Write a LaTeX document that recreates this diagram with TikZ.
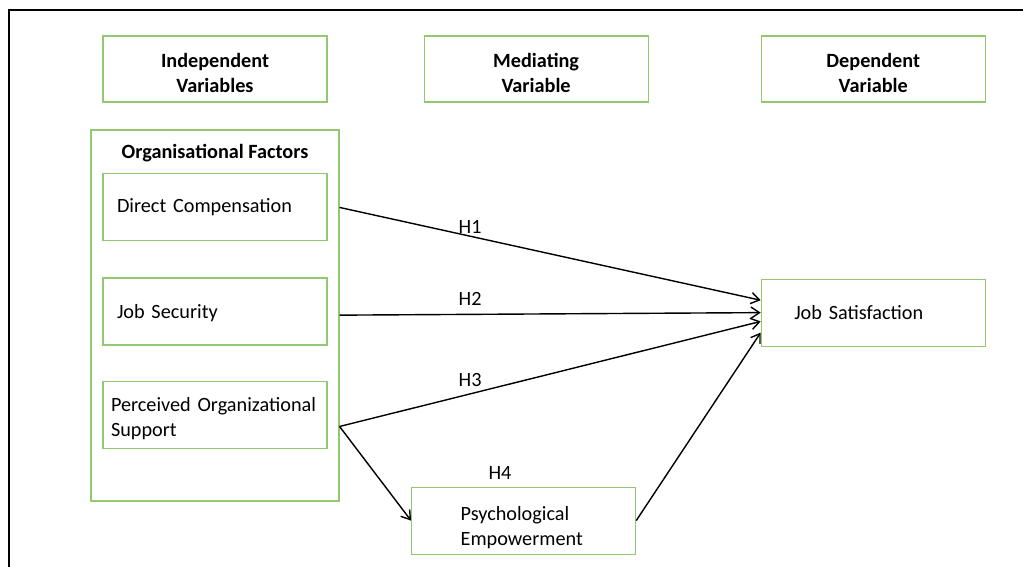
\documentclass[tikz,border=0pt]{standalone}
\usepackage{fontspec}
\setmainfont{Carlito}
\usepackage{tikz}
\usetikzlibrary{arrows.meta, positioning, shapes}
\definecolor{boxgreen}{RGB}{146,200,112}
\tikzstyle{head} = [rectangle, draw=boxgreen, line width=0.8pt, align=center, font=\fontsize{14.4}{17.5}\selectfont\bfseries, minimum height = 1.65cm, minimum width=5.6cm, text height=1.16cm]
\tikzstyle{item} = [rectangle, draw=boxgreen, line width=0.8pt, align=left, minimum height = 1.675cm, minimum width=5.6cm, inner xsep=0.35cm, text width=4.9cm]
\tikzstyle{arrow} = [line width=1pt, -{Straight Barb[length=6pt,width=8pt]}]
\tikzstyle{scat} = [every node/.style={font=\fontsize{14.4}{17.5}\selectfont}]

\begin{document}
\begin{tikzpicture}[scat]

\useasboundingbox (0,0) rectangle (25.575,-14.175);
\draw[line width=1.4pt] (0.225,-14.5) -- (0.225,-0.25) -- (25.9,-0.25);

\node(IV)[head] at (5.375,-1.725) {Independent\\Variables};
\node(MV)[head, right = 2.4cm of IV] {Mediating\\Variable};
\node(DV)[head, right = 2.8cm of MV] {Dependent\\Variable};

\node(DC)[item, below = 1.77cm of IV] {Direct Compensation};
\node(JSec)[item, below = 0.9cm of DC, text height=0.45cm] {Job Security};
\node(POS)[item, below = 0.88cm of JSec, inner xsep=0.2cm, text width=5.2cm, text height=0.545cm] {Perceived~Organizational\\Support};
\node(OF)[rectangle, draw=boxgreen, line width=0.8pt, minimum width=6.2cm, minimum height=9.275cm] at ([yshift=-0.1cm]JSec) {};
\node(OFt)[font=\fontsize{14.4}{17.5}\selectfont\bfseries] at ([yshift=-0.6cm]OF.north) {Organisational Factors};

\node(JS)[item, below = 4.4cm of DV, inner xsep=0.825cm, text width=3.95cm] {Job Satisfaction};
\node(PE)[item, below = 9.6cm of MV, xshift=-0.3125cm, inner xsep=1.225cm, text width=3.15cm, text height=0.7cm] {Psychological\\Empowerment};

\path (POS.east -| OF.east) ++(0,-0.29) coordinate (split);

\draw [arrow] (DC.east -| OF.east) -- node[pos=0.31, yshift=0.24cm]{H1} ([yshift=0.31cm]JS.west);
\draw [arrow] ([yshift=-0.09cm]JSec.east -| OF.east) -- node[pos=0.31, yshift=0.39cm]{H2} (JS.west);
\draw [arrow] (split) -- node[pos=0.31, yshift=0.34cm]{H3} ([yshift=-0.22cm]JS.west);
\draw [arrow] (split) -- (PE.west);
\draw [arrow] (PE.east) -- ([yshift=-0.5cm]JS.west);
\node(H4) at ([xshift=-0.59cm, yshift=0.35cm]PE.north) {H4};

\end{tikzpicture}
\end{document}
